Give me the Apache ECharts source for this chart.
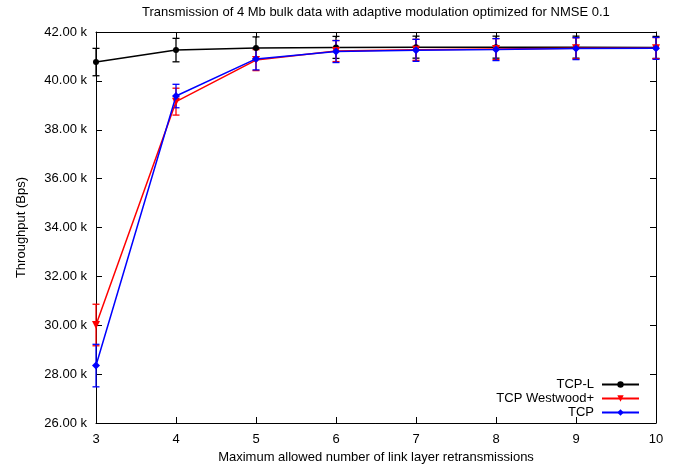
<!DOCTYPE html>
<html><head><meta charset="utf-8">
<script src="https://cdn.jsdelivr.net/npm/echarts@6/dist/echarts.min.js"></script>
<style>html,body{margin:0;padding:0;background:#fff}#c{width:686px;height:466px}</style>
</head><body><div id="c"></div>
<script>
const xValues = [3, 4, 5, 6, 7, 8, 9, 10];
const tcpL = [40.77, 41.26, 41.35, 41.37, 41.38, 41.38, 41.38, 41.37];
const tcpLErr = [0.56, 0.48, 0.45, 0.45, 0.45, 0.45, 0.45, 0.45];
const westwood = [30.01, 39.15, 40.85, 41.22, 41.27, 41.30, 41.33, 41.34];
const westwoodErr = [0.85, 0.55, 0.43, 0.43, 0.43, 0.43, 0.43, 0.43];
const tcp = [28.35, 39.38, 40.90, 41.20, 41.25, 41.28, 41.32, 41.33];
const tcpErr = [0.87, 0.48, 0.45, 0.45, 0.45, 0.45, 0.45, 0.45];
const names = ['TCP-L', 'TCP Westwood+', 'TCP'];
const colors = ['#000000', '#ff0000', '#0000ff'];

const font = 'Liberation Sans, Arial, sans-serif';
const fs = 13;
function pts(v){ return xValues.map((x,i)=>[x, v[i]]); }
function errs(v,e){ return xValues.map((x,i)=>[x, v[i]-e[i], v[i]+e[i]]); }
function errSeries(name, v, e, color){
  return {
    type:'custom', name: name, data: errs(v,e), z: 3,
    renderItem: function(params, api){
      const x = api.value(0);
      const lo = api.coord([x, api.value(1)]);
      const hi = api.coord([x, api.value(2)]);
      const w = 3.5;
      const st = {stroke: color, lineWidth: 1.3};
      return {type:'group', children:[
        {type:'line', shape:{x1:lo[0],y1:lo[1],x2:hi[0],y2:hi[1]}, style:st},
        {type:'line', shape:{x1:lo[0]-w,y1:lo[1],x2:lo[0]+w,y2:lo[1]}, style:st},
        {type:'line', shape:{x1:hi[0]-w,y1:hi[1],x2:hi[0]+w,y2:hi[1]}, style:st}
      ]};
    },
    encode:{x:0, y:[1,2]}, silent:true
  };
}
const chart = echarts.init(document.getElementById('c'));
const axisCommon = {
  axisLine:{show:true, lineStyle:{color:'#000', width:1}},
  axisTick:{show:true, inside:true, length:6, lineStyle:{color:'#000'}},
  splitLine:{show:false}
};
const legendTops = [378, 392, 406];
chart.setOption({
  animation:false,
  title:{text:'Transmission of 4 Mb bulk data with adaptive modulation optimized for NMSE 0.1',
    left:142, top:6, padding:0, textStyle:{fontFamily:font, fontSize:fs, fontWeight:'normal', color:'#000'}},
  grid:{left:96, right:30, top:32, bottom:43, containLabel:false, outerBoundsMode:'none'},
  legend: names.map((n,i)=>({orient:'vertical', right:46, top:legendTops[i], align:'right', padding:0,
    itemWidth:37, itemHeight:8, itemGap:0,
    textStyle:{fontFamily:font, fontSize:fs, color:'#000', padding:[0,3,0,0]}, data:[n]})),
  xAxis:[
    Object.assign({type:'value', min:3, max:10, interval:1, position:'bottom',
      name:'Maximum allowed number of link layer retransmissions', nameLocation:'middle', nameGap:27,
      nameTextStyle:{fontFamily:font, fontSize:fs, color:'#000'},
      axisLabel:{fontFamily:font, fontSize:fs, color:'#000', margin:10}}, axisCommon),
    Object.assign({type:'value', min:3, max:10, interval:1, position:'top', axisLabel:{show:false}}, axisCommon)
  ],
  yAxis:[
    Object.assign({type:'value', min:26, max:42, interval:2, position:'left',
      name:'Throughput (Bps)', nameLocation:'middle', nameGap:68,
      nameTextStyle:{fontFamily:font, fontSize:fs, color:'#000'},
      axisLabel:{fontFamily:font, fontSize:fs, color:'#000', margin:9, formatter:v=>v.toFixed(2)+' k'}}, axisCommon),
    Object.assign({type:'value', min:26, max:42, interval:2, position:'right', axisLabel:{show:false}}, axisCommon)
  ],
  series:[
    {name:names[0], type:'line', data:pts(tcpL), symbol:'circle', symbolSize:6, color:colors[0],
      lineStyle:{width:1.5, color:colors[0]}, itemStyle:{color:colors[0]}, z:4},
    errSeries(names[0], tcpL, tcpLErr, colors[0]),
    {name:names[1], type:'line', data:pts(westwood), symbol:'triangle', symbolRotate:180, symbolSize:8, color:colors[1],
      lineStyle:{width:1.5, color:colors[1]}, itemStyle:{color:colors[1]}, z:5},
    errSeries(names[1], westwood, westwoodErr, colors[1]),
    {name:names[2], type:'line', data:pts(tcp), symbol:'diamond', symbolSize:8, color:colors[2],
      lineStyle:{width:1.5, color:colors[2]}, itemStyle:{color:colors[2]}, z:6},
    errSeries(names[2], tcp, tcpErr, colors[2])
  ]
});
</script></body></html>
